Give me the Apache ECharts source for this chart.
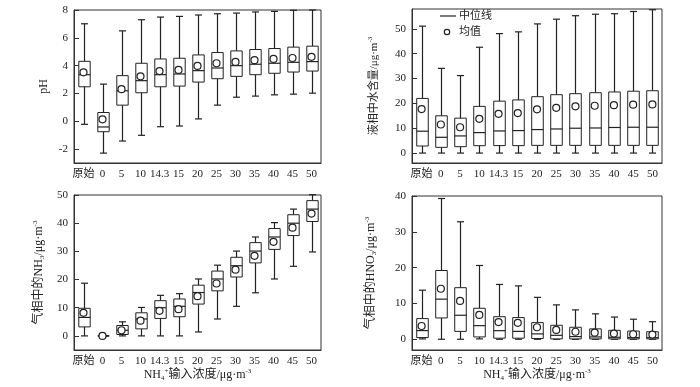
<!DOCTYPE html>
<html><head><meta charset="utf-8">
<script src="https://cdn.jsdelivr.net/npm/echarts@6/dist/echarts.min.js"></script>
<style>html,body{margin:0;padding:0;background:#fff}#c{width:700px;height:387px}</style>
</head><body><div id="c"></div>
<script>
const categories = ['原始','0','5','10','14.3','15','20','25','30','35','40','45','50'];
// each entry: [lower whisker, Q1, median, Q3, upper whisker]
const phBox = [
  [-0.22,2.48,3.35,4.31,7.01],[-2.29,-0.75,-0.41,0.63,2.67],[-1.42,1.16,2.19,3.28,6.5],
  [-1.01,2.05,2.92,4.17,7.3],[-0.39,2.48,3.35,4.48,7.49],[-0.34,2.53,3.4,4.53,7.54],
  [0.17,2.82,3.64,4.77,7.64],[1.16,3.06,3.83,4.94,7.73],[1.73,3.23,4.0,5.06,7.78],
  [1.81,3.35,4.1,5.16,7.86],[1.9,3.45,4.17,5.23,7.9],[1.95,3.54,4.24,5.33,7.98],
  [2.02,3.61,4.29,5.4,8.0]
];
const phMean = [3.52,0.14,2.31,3.23,3.61,3.69,3.98,4.17,4.27,4.39,4.48,4.55,4.63];

const waterBox = [
  [0,2.84,8.8,22.0,51.1],[0,2.3,6.35,15.0,34.1],[0,2.57,6.9,14.05,31.2],
  [0,2.97,8.24,18.8,42.6],[0,3.0,8.9,20.9,48.1],[0,3.0,9.05,21.4,48.8],
  [0,3.1,9.46,22.7,52.0],[0,3.1,9.7,23.5,53.9],[0,3.1,10.0,23.9,55.3],
  [0,3.1,10.1,24.3,55.9],[0,3.1,10.3,24.6,56.1],[0,3.1,10.4,24.9,57.0],
  [0,3.1,10.4,25.1,57.7]
];
const waterMean = [17.7,11.5,10.4,13.8,15.8,16.1,17.6,18.2,18.8,19.05,19.3,19.5,19.6];

const nh3Box = [
  [0,3.2,6.56,9.8,18.7],[0,0,0,0,0],[0,0.5,2.0,3.7,5.0],
  [0,2.5,6.0,8.2,10.1],[0,6.2,10.0,12.5,14.4],[0,6.8,10.5,13.1,15.0],
  [1.4,11.3,15.4,18.0,20.2],[6.0,16.0,20.2,23.0,25.1],[10.5,20.9,24.9,27.9,30.1],
  [15.3,25.9,30.1,33.1,35.1],[20.2,30.7,35.1,38.1,40.2],[24.7,35.6,40.0,43.0,45.0],
  [29.8,40.6,45.0,48.0,50.1]
];
const nh3Mean = [8.2,0,2.0,5.4,8.9,9.5,14.1,18.6,23.5,28.4,33.4,38.4,43.4];

const hno3Box = [
  [0.1,0.47,2.42,5.77,13.7],[0,5.95,11.2,19.2,39.3],[0,2.2,6.7,14.4,32.8],
  [0.1,0.65,3.8,8.65,20.6],[0,0.3,2.4,6.3,15.3],[0,0.3,2.2,6.05,14.9],
  [0,0.2,1.5,4.65,11.7],[0,0.1,1.1,3.9,9.6],[0,0.1,0.75,3.35,8.2],
  [0,0.1,0.65,2.9,7.1],[0,0.1,0.55,2.5,6.2],[0,0.1,0.45,2.3,5.6],
  [0,0.1,0.45,2.1,4.9]
];
const hno3Mean = [3.7,14.1,10.7,6.8,4.8,4.6,3.35,2.6,2.1,1.85,1.6,1.4,1.3];

const SERIF = '"Liberation Serif","Noto Sans CJK SC",serif';
const INK = '#222';

function boxRender(params, api) {
  const i = api.value(0);
  const lo = api.coord([i, api.value(1)]);
  const q1 = api.coord([i, api.value(2)]);
  const md = api.coord([i, api.value(3)]);
  const q3 = api.coord([i, api.value(4)]);
  const hi = api.coord([i, api.value(5)]);
  const band = api.size([1, 0])[0];
  const bw = band * 0.6, cw = band * 0.37;
  const x = Math.round(lo[0]) + 0.5;
  const ls = {stroke: INK, lineWidth: 1.2, fill: null};
  return {type: 'group', children: [
    {type: 'line', shape: {x1: x, y1: hi[1], x2: x, y2: q3[1]}, style: ls},
    {type: 'line', shape: {x1: x, y1: q1[1], x2: x, y2: lo[1]}, style: ls},
    {type: 'line', shape: {x1: x - cw / 2, y1: hi[1], x2: x + cw / 2, y2: hi[1]}, style: ls},
    {type: 'line', shape: {x1: x - cw / 2, y1: lo[1], x2: x + cw / 2, y2: lo[1]}, style: ls},
    {type: 'rect', shape: {x: x - bw / 2, y: q3[1], width: bw, height: q1[1] - q3[1]},
      style: {stroke: INK, lineWidth: 1, fill: '#fff'}},
    {type: 'line', shape: {x1: x - bw / 2, y1: md[1], x2: x + bw / 2, y2: md[1]}, style: ls}
  ]};
}

const richStyles = {
  sup: {fontSize: 7, verticalAlign: 'top', fontFamily: SERIF, color: INK, lineHeight: 14},
  sub: {fontSize: 7, verticalAlign: 'bottom', fontFamily: SERIF, color: INK, lineHeight: 14}
};

const grids = [
  {left: 74, top: 10, width: 247, height: 153},
  {left: 412, top: 9, width: 250, height: 154},
  {left: 74, top: 195, width: 247, height: 155},
  {left: 412, top: 196, width: 250, height: 154}
].map(g => Object.assign({show: true, borderColor: '#333', borderWidth: 1, backgroundColor: 'transparent'}, g));

const xName = 'NH{sub|4}{sup|+}输入浓度/μg·m{sup|-3}';
const xAxes = [0, 1, 2, 3].map(k => ({
  type: 'category', gridIndex: k, data: categories,
  axisLine: {onZero: false, lineStyle: {color: '#333', width: 1}},
  axisTick: {inside: true, alignWithLabel: true, length: 4, lineStyle: {color: '#333'}},
  axisLabel: {fontFamily: SERIF, fontSize: 11, color: INK, margin: 6, interval: 0},
  name: k >= 2 ? xName : '', nameLocation: 'middle', nameGap: 18,
  nameTextStyle: {fontFamily: SERIF, fontSize: 12, color: INK, lineHeight: 14, rich: richStyles}
}));

const yCfg = [
  {min: -3, max: 8, name: 'pH', gap: 23, fs: 12, hideMax: false},
  {min: -4, max: 58, name: '液相中水含量/μg·m{sup|-3}', gap: 31, fs: 11, hideMax: true},
  {min: -5, max: 50, name: '气相中的NH{sub|3}/μg·m{sup|-3}', gap: 28, fs: 12, hideMax: false},
  {min: -3, max: 40, name: '气相中的HNO{sub|3}/μg·m{sup|-3}', gap: 34, fs: 12, hideMax: false}
];
const yAxes = yCfg.map((c, k) => ({
  type: 'value', gridIndex: k, min: c.min, max: c.max,
  splitLine: {show: false},
  axisLine: {show: true, onZero: false, lineStyle: {color: '#333', width: 1}},
  axisTick: {show: true, inside: true, length: 5, lineStyle: {color: '#333'}},
  axisLabel: {fontFamily: SERIF, fontSize: 11, color: INK, margin: 6, showMinLabel: false, showMaxLabel: !c.hideMax},
  name: c.name, nameLocation: 'middle', nameGap: c.gap, nameRotate: 90,
  nameTextStyle: {fontFamily: SERIF, fontSize: c.fs, color: INK, lineHeight: 14, rich: richStyles}
}));

const boxes = [phBox, waterBox, nh3Box, hno3Box];
const means = [phMean, waterMean, nh3Mean, hno3Mean];
const series = [];
boxes.forEach((b, k) => {
  series.push({
    type: 'custom', name: '中位线', xAxisIndex: k, yAxisIndex: k,
    renderItem: boxRender,
    encode: {x: 0, y: [1, 2, 3, 4, 5]},
    data: b.map((v, i) => [i].concat(v)), z: 2
  });
  series.push({
    type: 'scatter', name: '均值', xAxisIndex: k, yAxisIndex: k,
    symbol: 'circle', symbolSize: 7,
    itemStyle: {color: '#fff', borderColor: INK, borderWidth: 1.2, opacity: 1},
    data: means[k].map((v, i) => [i, v]), z: 3, silent: true
  });
});

const chart = echarts.init(document.getElementById('c'), null, {renderer: 'canvas'});
chart.setOption({
  animation: false,
  backgroundColor: '#fff',
  grid: grids, xAxis: xAxes, yAxis: yAxes, series: series,
  graphic: [
    {type: 'line', shape: {x1: 440, y1: 16, x2: 456, y2: 16}, style: {stroke: INK, lineWidth: 1.2}},
    {type: 'text', x: 459, y: 16, style: {text: '中位线', fontFamily: SERIF, fontSize: 11, fill: INK, verticalAlign: 'middle'}},
    {type: 'circle', shape: {cx: 447, cy: 32, r: 2.7}, style: {stroke: INK, fill: '#fff', lineWidth: 1.2}},
    {type: 'text', x: 459, y: 32, style: {text: '均值', fontFamily: SERIF, fontSize: 11, fill: INK, verticalAlign: 'middle'}}
  ]
});
</script></body></html>
